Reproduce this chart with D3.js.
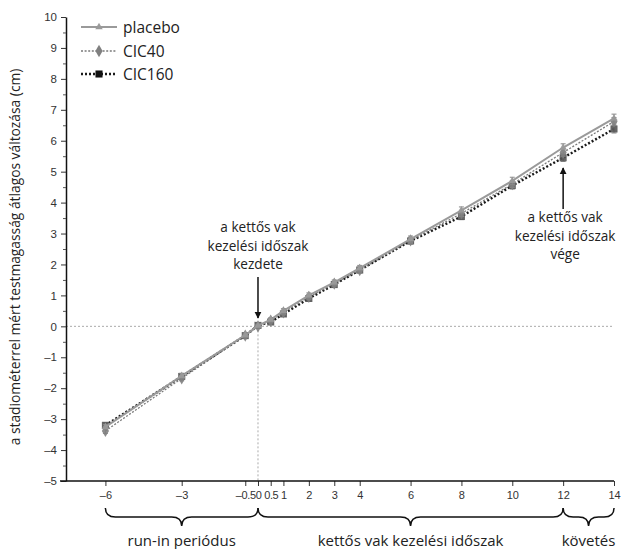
<!DOCTYPE html>
<html><head><meta charset="utf-8">
<script src="https://d3js.org/d3.v7.min.js"></script>
<style>body{margin:0;background:#fff}svg{display:block}</style>
</head><body>
<svg id="c" width="621" height="549"></svg>
<script>
// ---- data ----
const weeks = [-6, -3, -0.5, 0, 0.5, 1, 2, 3, 4, 6, 8, 10, 12, 14];
const xTickValues = [-6, -3, -0.5, 0, 0.5, 1, 2, 3, 4, 6, 8, 10, 12, 14];
const xTickLabels = ["\u20136", "\u20133", "\u20130.5", "0", "0.5", "1", "2", "3", "4", "6", "8", "10", "12", "14"];
const yTickValues = [-5, -4, -3, -2, -1, 0, 1, 2, 3, 4, 5, 6, 7, 8, 9, 10];
const placebo = [-3.25, -1.6, -0.28, 0.02, 0.22, 0.5, 1.0, 1.42, 1.88, 2.82, 3.75, 4.7, 5.78, 6.72];
const cic40   = [-3.38, -1.68, -0.3, 0.0, 0.18, 0.45, 0.95, 1.38, 1.82, 2.78, 3.65, 4.6, 5.62, 6.62];
const cic160  = [-3.2, -1.62, -0.3, 0.03, 0.14, 0.4, 0.9, 1.35, 1.82, 2.76, 3.55, 4.55, 5.45, 6.38];
const semPlacebo = [0.08, 0.08, 0.06, 0.05, 0.06, 0.07, 0.08, 0.08, 0.09, 0.1, 0.11, 0.12, 0.12, 0.14];
const sem40      = [0.08, 0.08, 0.06, 0.05, 0.06, 0.07, 0.08, 0.08, 0.09, 0.1, 0.1, 0.11, 0.12, 0.13];
const sem160     = [0.08, 0.08, 0.06, 0.05, 0.06, 0.07, 0.08, 0.08, 0.09, 0.1, 0.1, 0.11, 0.12, 0.13];
const seriesNames = ["placebo", "CIC40", "CIC160"];
const periodLabels = ["run-in periódus", "kettős vak kezelési időszak", "követés"];
const periodBounds = [[-6, 0], [0, 12], [12, 14]];
const yLabel = "a stadiométerrel mért testmagasság átlagos változása (cm)";
const annoStart = ["a kettős vak", "kezelési időszak", "kezdete"];
const annoEnd = ["a kettős vak", "kezelési időszak", "vége"];

// ---- layout ----
const svg = d3.select("#c");
const L = 66, R = 614, T = 17, B = 481;
const x = d3.scaleLinear().domain([-7.55, 14]).range([L, R]);
const y = d3.scaleLinear().domain([-5, 10]).range([B, T]);
const humanist = "'Open Sans', Lato, sans-serif";
const tickFont = "'Liberation Sans', Arial, sans-serif";

svg.append("defs").append("marker")
  .attr("id", "ah").attr("viewBox", "0 0 10 10").attr("refX", 9).attr("refY", 5)
  .attr("markerWidth", 7).attr("markerHeight", 8).attr("markerUnits", "userSpaceOnUse")
  .attr("orient", "auto")
  .append("path").attr("d", "M0,0 L10,5 L0,10 Z").attr("fill", "#111");

// reference dashed lines
svg.append("line").attr("x1", L).attr("x2", R).attr("y1", y(0)).attr("y2", y(0))
  .attr("stroke", "#aaa").attr("stroke-width", 1).attr("stroke-dasharray", "2,2");
svg.append("line").attr("x1", x(0)).attr("x2", x(0)).attr("y1", y(0)).attr("y2", B)
  .attr("stroke", "#aaa").attr("stroke-width", 1).attr("stroke-dasharray", "2,2");

// axes
const yAxis = svg.append("g").attr("transform", `translate(${L},0)`)
  .call(d3.axisLeft(y).tickValues(yTickValues).tickSize(5).tickSizeOuter(0)
    .tickFormat(d => d < 0 ? "\u2013" + (-d) : d));
yAxis.select(".domain").attr("stroke", "#111").attr("stroke-width", 1.5);
yAxis.selectAll(".tick line").attr("stroke", "#333");
yAxis.selectAll("text").attr("font-family", tickFont).attr("font-size", 11.5).attr("fill", "#333").attr("x", -9);
const yMinor = svg.append("g").attr("transform", `translate(${L},0)`)
  .call(d3.axisLeft(y).tickValues(d3.range(-4.5, 10, 1)).tickSize(3).tickFormat(""));
yMinor.select(".domain").remove();
yMinor.selectAll(".tick line").attr("stroke", "#555");

const xAxis = svg.append("g").attr("transform", `translate(0,${B})`)
  .call(d3.axisBottom(x).tickValues(xTickValues).tickSize(5).tickSizeOuter(0)
    .tickFormat((d, i) => xTickLabels[i]));
xAxis.select(".domain").remove();
xAxis.selectAll(".tick line").attr("stroke", "#333");
xAxis.selectAll("text").attr("font-family", tickFont).attr("font-size", 11).attr("fill", "#333").attr("dy", "0.95em")
  .attr("letter-spacing", (d) => (d > -1 && d < 2) ? -0.4 : 0);
svg.append("line").attr("x1", L - 6).attr("x2", R).attr("y1", B).attr("y2", B)
  .attr("stroke", "#111").attr("stroke-width", 1.5);

// y label
svg.append("text").attr("transform", `translate(20,${(T + B) / 2 + 8}) rotate(-90)`)
  .attr("text-anchor", "middle").attr("font-family", humanist).attr("font-size", 13.8)
  .attr("fill", "#222").text(yLabel);

// series
const styles = [
  {vals: placebo, sem: semPlacebo, stroke: "#9a9a9a", width: 2, dash: null, mfill: "#9a9a9a", shape: d3.symbolTriangle, size: 24},
  {vals: cic40, sem: sem40, stroke: "#7a7a7a", width: 1.3, dash: "2,1.6", mfill: "#808080", shape: d3.symbolDiamond, size: 44},
  {vals: cic160, sem: sem160, stroke: "#1a1a1a", width: 2.4, dash: "2,2", mfill: "#555", shape: d3.symbolSquare, size: 50}
];
const line = d3.line().x(d => x(d[0])).y(d => y(d[1]));
const order = [2, 1, 0];
order.forEach(i => {
  const s = styles[i];
  const pts = weeks.map((w, j) => [w, s.vals[j], s.sem[j]]);
  const g = svg.append("g");
  g.append("path").datum(pts).attr("d", line).attr("fill", "none")
    .attr("stroke", s.stroke).attr("stroke-width", s.width)
    .attr("stroke-dasharray", s.dash);
  g.selectAll(".eb").data(pts).enter().append("path")
    .attr("d", d => `M${x(d[0]) - 2.5},${y(d[1] + d[2])}h5M${x(d[0])},${y(d[1] + d[2])}V${y(d[1] - d[2])}M${x(d[0]) - 2.5},${y(d[1] - d[2])}h5`)
    .attr("stroke", "#888").attr("stroke-width", 1).attr("fill", "none");
  g.selectAll(".m").data(pts).enter().append("path")
    .attr("d", d3.symbol().type(s.shape).size(s.size))
    .attr("transform", d => `translate(${x(d[0])},${y(d[1])})`)
    .attr("fill", s.mfill).attr("opacity", 0.9);
});

// legend
const legY = [27, 51, 74];
const leg = svg.append("g");
styles.forEach((s, i) => {
  leg.append("line").attr("x1", 81).attr("x2", 117).attr("y1", legY[i]).attr("y2", legY[i])
    .attr("stroke", s.stroke).attr("stroke-width", s.width).attr("stroke-dasharray", s.dash);
  leg.append("path").attr("d", d3.symbol().type(s.shape).size(s.size))
    .attr("transform", `translate(99,${legY[i]})`).attr("fill", i === 2 ? "#111" : s.mfill);
  leg.append("text").attr("x", 123).attr("y", legY[i]).attr("dy", "0.36em")
    .attr("font-family", humanist).attr("font-size", 15.5).attr("fill", "#222").text(seriesNames[i]);
});

// annotations
function anno(lines, cx, y0) {
  lines.forEach((s, k) => svg.append("text").attr("x", cx).attr("y", y0 + k * 18.6)
    .attr("text-anchor", "middle").attr("font-family", humanist).attr("font-size", 13.6)
    .attr("fill", "#222").text(s));
}
anno(annoStart, x(0), 232);
svg.append("line").attr("x1", x(0)).attr("x2", x(0)).attr("y1", 277).attr("y2", 318)
  .attr("stroke", "#111").attr("stroke-width", 1.5).attr("marker-end", "url(#ah)");
anno(annoEnd, x(12) + 2, 222);
svg.append("line").attr("x1", x(12)).attr("x2", x(12)).attr("y1", 209).attr("y2", 168)
  .attr("stroke", "#111").attr("stroke-width", 1.5).attr("marker-end", "url(#ah)");

// period braces
function brace(x1, x2, y0, h) {
  const xm = (x1 + x2) / 2, w = Math.min(10, (x2 - x1) / 4), ym = y0 + h * 0.5;
  return `M${x1},${y0} Q${x1},${ym} ${x1 + w},${ym} L${xm - w},${ym} Q${xm},${ym} ${xm},${y0 + h} Q${xm},${ym} ${xm + w},${ym} L${x2 - w},${ym} Q${x2},${ym} ${x2},${y0}`;
}
periodBounds.forEach((b, i) => {
  svg.append("path").attr("d", brace(x(b[0]), x(b[1]), 508, 18))
    .attr("fill", "none").attr("stroke", "#111").attr("stroke-width", 1.5);
  svg.append("text").attr("x", x((b[0] + b[1]) / 2)).attr("y", 546)
    .attr("text-anchor", "middle").attr("font-family", humanist).attr("font-size", 15)
    .attr("fill", "#222").text(periodLabels[i]);
});
</script>
</body></html>
